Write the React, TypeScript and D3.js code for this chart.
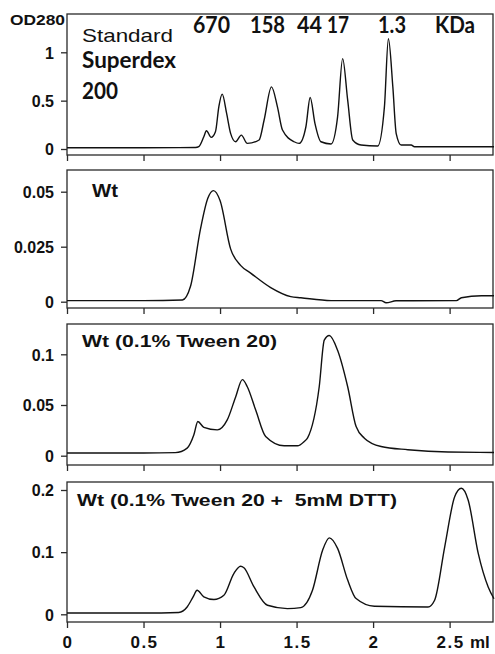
import React, { useEffect, useRef } from 'react';
import * as d3 from 'd3';

// elution volume (ml) / OD280
const standardMl = [0, 0.5, 0.84, 0.861, 0.894, 0.911, 0.942, 0.97, 0.992, 1.014, 1.043, 1.069, 1.102, 1.139, 1.178, 1.255, 1.288, 1.336, 1.375, 1.408, 1.484, 1.517, 1.561, 1.589, 1.62, 1.659, 1.725, 1.768, 1.801, 1.834, 1.867, 1.921, 2.03, 2.074, 2.1, 2.129, 2.151, 2.184, 2.249, 2.27, 2.79];
const standardOd = [0.013, 0.013, 0.015, 0.024, 0.127, 0.189, 0.12, 0.178, 0.436, 0.567, 0.368, 0.162, 0.075, 0.144, 0.058, 0.093, 0.3, 0.642, 0.436, 0.196, 0.075, 0.058, 0.23, 0.533, 0.265, 0.075, 0.052, 0.333, 0.935, 0.505, 0.093, 0.041, 0.031, 0.436, 1.14, 0.642, 0.16, 0.041, 0.041, 0.024, 0.024];

const wtMl = [0, 0.5, 0.754, 0.807, 0.872, 0.92, 0.957, 1.0, 1.069, 1.134, 1.2, 1.331, 1.462, 1.528, 1.725, 2.052, 2.085, 2.15, 2.544, 2.577, 2.708, 2.79];
const wtOd = [0.0005, 0.0005, 0.0008, 0.007, 0.033, 0.047, 0.0505, 0.046, 0.024, 0.0165, 0.013, 0.0064, 0.0023, 0.0018, 0.0005, 0.0005, -0.0005, 0.0004, 0.0005, 0.0018, 0.0027, 0.0027];

const tweenMl = [0, 0.5, 0.708, 0.785, 0.829, 0.855, 0.894, 0.982, 1.047, 1.102, 1.146, 1.178, 1.233, 1.298, 1.419, 1.506, 1.55, 1.572, 1.648, 1.681, 1.714, 1.768, 1.834, 1.889, 1.943, 2.052, 2.227, 2.49, 2.79];
const tweenOd = [0.0026, 0.0026, 0.003, 0.0075, 0.0206, 0.0337, 0.028, 0.0255, 0.0353, 0.058, 0.075, 0.068, 0.045, 0.019, 0.0098, 0.0098, 0.014, 0.0176, 0.068, 0.114, 0.1186, 0.104, 0.068, 0.0287, 0.0173, 0.0091, 0.0059, 0.0036, 0.0032];

const dttMl = [0, 0.5, 0.73, 0.785, 0.824, 0.85, 0.894, 0.96, 1.025, 1.09, 1.134, 1.156, 1.222, 1.31, 1.44, 1.528, 1.604, 1.67, 1.714, 1.768, 1.834, 1.889, 2.009, 2.359, 2.402, 2.468, 2.533, 2.577, 2.621, 2.687, 2.752, 2.79];
const dttOd = [0.002, 0.002, 0.003, 0.0118, 0.028, 0.0387, 0.028, 0.0237, 0.0306, 0.0656, 0.0774, 0.075, 0.044, 0.0145, 0.0092, 0.0108, 0.0387, 0.103, 0.123, 0.106, 0.055, 0.0253, 0.0129, 0.0118, 0.0226, 0.1086, 0.189, 0.2027, 0.184, 0.098, 0.044, 0.025];

const xTicks = [0, 0.5, 1, 1.5, 2, 2.5];
const xTickLabels = ['0', '0.5', '1', '1.5', '2', '2.5'];

const standardTicks = [0, 0.5, 1];
const wtTicks = [0, 0.025, 0.05];
const tweenTicks = [0, 0.05, 0.1];
const dttTicks = [0, 0.1, 0.2];

const sizeLabels = ['670', '158', '44', '17', '1.3', 'KDa'];

const W = 495;
const H = 654;

const App = () => {
  const svgRef = useRef<SVGSVGElement | null>(null);

  useEffect(() => {
    const svg = d3.select(svgRef.current);
    svg.selectAll('*').remove();

    const x = d3.scaleLinear().domain([0, 2.79]).range([67, 494]);
    const frameColor = '#2a2a2a';

    const panels = [
      { ml: standardMl, od: standardOd, ticks: standardTicks, top: 14, bottom: 155, zero: 149, maxPx: 52.3 },
      { ml: wtMl, od: wtOd, ticks: wtTicks, top: 170, bottom: 308, zero: 301.7, maxPx: 191.7 },
      { ml: tweenMl, od: tweenOd, ticks: tweenTicks, top: 324, bottom: 465, zero: 455.7, maxPx: 354.3 },
      { ml: dttMl, od: dttOd, ticks: dttTicks, top: 482, bottom: 622, zero: 614.3, maxPx: 490 },
    ];

    panels.forEach((p) => {
      const maxTick = p.ticks[p.ticks.length - 1];
      const y = d3.scaleLinear().domain([0, maxTick]).range([p.zero, p.maxPx]);
      const g = svg.append('g');

      g.append('rect')
        .attr('x', x(0))
        .attr('y', p.top)
        .attr('width', x(2.79) - x(0) - 1)
        .attr('height', p.bottom - p.top)
        .attr('fill', 'none')
        .attr('stroke', frameColor)
        .attr('stroke-width', 1.3);

      // y ticks
      const yAxis = d3.axisLeft(y).tickValues(p.ticks).tickSize(6).tickPadding(7)
        .tickFormat((d) => String(d));
      const ya = g.append('g').attr('transform', `translate(${x(0)},0)`).call(yAxis);
      ya.select('.domain').remove();
      ya.selectAll('line').attr('stroke', frameColor).attr('stroke-width', 1.3);
      ya.selectAll('text')
        .attr('fill', '#111')
        .style('font-family', 'Liberation Sans, Arial, sans-serif')
        .style('font-weight', 'bold')
        .style('font-size', '16px')
        .attr('dy', '0.36em');

      // x ticks
      const xAxis = d3.axisBottom(x).tickValues(xTicks).tickSize(6).tickFormat(() => '');
      const xa = g.append('g').attr('transform', `translate(0,${p.bottom})`).call(xAxis);
      xa.select('.domain').remove();
      xa.selectAll('line').attr('stroke', frameColor).attr('stroke-width', 1.3);

      const line = d3.line<number>()
        .x((_, i) => x(p.ml[i]))
        .y((d) => y(d))
        .curve(d3.curveMonotoneX);

      g.append('path')
        .datum(p.od)
        .attr('d', line)
        .attr('fill', 'none')
        .attr('stroke', '#111')
        .attr('stroke-width', 1.4);
    });

    // bottom tick labels
    svg.append('g')
      .selectAll('text')
      .data(xTicks)
      .enter()
      .append('text')
      .attr('x', (d) => x(d) + 1)
      .attr('y', 648)
      .attr('text-anchor', 'middle')
      .attr('fill', '#111')
      .style('font-family', 'Liberation Sans, Arial, sans-serif')
      .style('font-weight', 'bold')
      .style('font-size', '17px')
      .style('letter-spacing', '1.5px')
      .text((_, i) => xTickLabels[i]);

    svg.append('text')
      .attr('x', 470)
      .attr('y', 648)
      .attr('fill', '#111')
      .style('font-family', 'Liberation Sans, Arial, sans-serif')
      .style('font-weight', 'bold')
      .style('font-size', '17px')
      .text('ml');

    const txt = (s: string, px: number, py: number, size: number, family: string, weight: string, len?: number) => {
      const t = svg.append('text')
        .attr('x', px)
        .attr('y', py)
        .attr('fill', '#111')
        .style('font-family', family)
        .style('font-weight', weight)
        .style('font-size', `${size}px`)
        .text(s);
      if (len) t.attr('textLength', len).attr('lengthAdjust', 'spacingAndGlyphs');
      return t;
    };

    const arial = 'Liberation Sans, Arial, sans-serif';
    const lato = 'Lato, Open Sans, sans-serif';

    txt('OD280', 10, 25, 14, arial, 'bold', 55);
    txt('Standard', 82, 42, 19, arial, 'normal', 91);
    txt('Superdex', 82, 68, 23, lato, 'bold', 94);
    txt('200', 82, 99, 23, lato, 'bold', 36);

    const sizeX = [193, 250, 297, 327, 378, 435];
    const sizeW = [37, 35, 25, 22, 28, 40];
    sizeLabels.forEach((s, i) => txt(s, sizeX[i], 33, 22, lato, 'bold', sizeW[i]));

    txt('Wt', 92, 197, 18, arial, 'bold', 26);
    txt('Wt (0.1% Tween 20)', 82, 347, 16.5, arial, 'bold', 195);
    txt('Wt (0.1% Tween 20 +\u00a0 5mM DTT)', 77, 506, 16.5, arial, 'bold', 320);
  }, []);

  return (
    <div style={{ position: 'absolute', left: 0, top: 0, width: W, height: H, background: '#fff' }}>
      <svg ref={svgRef} width={W} height={H} style={{ display: 'block' }}></svg>
    </div>
  );
};

export default App;
